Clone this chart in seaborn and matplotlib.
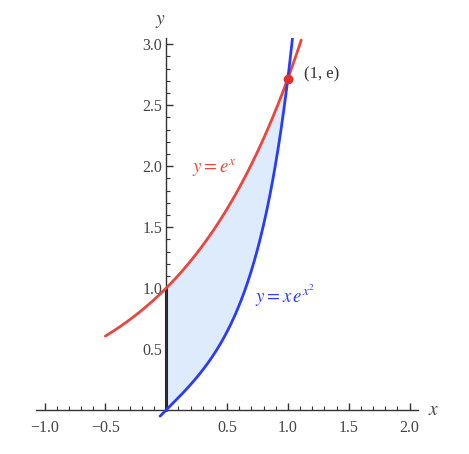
import numpy as np
import pandas as pd
import matplotlib
matplotlib.use("Agg")
import matplotlib.pyplot as plt
import seaborn as sns
from matplotlib.ticker import MultipleLocator, FixedLocator

# Curve domains
red_x_range = [-0.5, 1.11]      # y = e^x
blue_x_range = [-0.05, 1.07]    # y = x e^{x^2}
fill_x_range = [0.0, 1.0]
point_xy = [1.0, np.e]
x_ticks = [-1.0, -0.5, 0.5, 1.0, 1.5, 2.0]
y_ticks = [0.5, 1.0, 1.5, 2.0, 2.5, 3.0]

sns.set_style("ticks")
plt.rcParams['font.family'] = ['Liberation Serif', 'DejaVu Serif']
plt.rcParams['mathtext.fontset'] = 'stix'

xr = np.linspace(*red_x_range, 300)
xb = np.linspace(*blue_x_range, 300)
red = pd.DataFrame({"x": xr, "y": np.exp(xr)})
blue = pd.DataFrame({"x": xb, "y": xb * np.exp(xb ** 2)})

fig = plt.figure(figsize=(4.69, 4.54), dpi=100)
ax = fig.add_axes([0.0768, 0.078, 0.8145, 0.838])

xf = np.linspace(*fill_x_range, 300)
ax.fill_between(xf, xf * np.exp(xf ** 2), np.exp(xf), color="#DDEBFC", lw=0, zorder=1)
ax.plot([0, 0], [0, 1], color="#222222", lw=2.2, zorder=2)

sns.lineplot(data=red, x="x", y="y", color="#E8473E", lw=2, ax=ax, zorder=3, sort=False)
sns.lineplot(data=blue, x="x", y="y", color="#2B3CF5", lw=2, ax=ax, zorder=3, sort=False)
ax.plot(*point_xy, "o", color="#E0302A", ms=6, zorder=4)

ax.set_xlim(-1.07, 2.07)
ax.set_ylim(-0.07, 3.05)

for s in ["top", "right"]:
    ax.spines[s].set_visible(False)
ax.spines["left"].set_position(("data", 0))
ax.spines["bottom"].set_position(("data", 0))
for s in ["left", "bottom"]:
    ax.spines[s].set_color("#333333")
    ax.spines[s].set_linewidth(1.0)
ax.spines["left"].set_bounds(0, 3.05)

ax.xaxis.set_major_locator(FixedLocator(x_ticks))
ax.yaxis.set_major_locator(FixedLocator(y_ticks))
ax.xaxis.set_minor_locator(MultipleLocator(0.1))
ax.yaxis.set_minor_locator(MultipleLocator(0.1))
ax.set_xticklabels([f"{v:.1f}".replace("-", "\u2212") for v in x_ticks])
ax.set_yticklabels([f"{v:.1f}" for v in y_ticks])
ax.tick_params(which="both", bottom=True, left=True, top=False, right=False)
ax.tick_params(which="major", direction="in", length=5, width=1, color="#333333",
               labelsize=11.5, labelcolor="#444444")
ax.tick_params(axis="x", which="major", pad=7)
ax.tick_params(axis="y", which="major", pad=3)
ax.tick_params(which="minor", direction="in", length=3, width=0.8, color="#333333")
ax.set_xlabel("")
ax.set_ylabel("")

ax.text(2.15, 0.0, "$x$", fontsize=14, color="#444444", va="center", ha="left")
ax.text(-0.05, 3.12, "$y$", fontsize=14, color="#444444", va="bottom", ha="center", clip_on=False)
ax.text(1.13, 2.75, "(1, e)", fontsize=12, color="#333333", va="center", ha="left")
ax.text(0.21, 1.98, "$y = e^x$", fontsize=13.5, color="#E8473E", va="center", ha="left")
ax.text(0.73, 0.94, "$y = x\\,e^{x^2}$", fontsize=13.5, color="#2B3CF5", va="center", ha="left")

fig.savefig("out.png", dpi=100)
